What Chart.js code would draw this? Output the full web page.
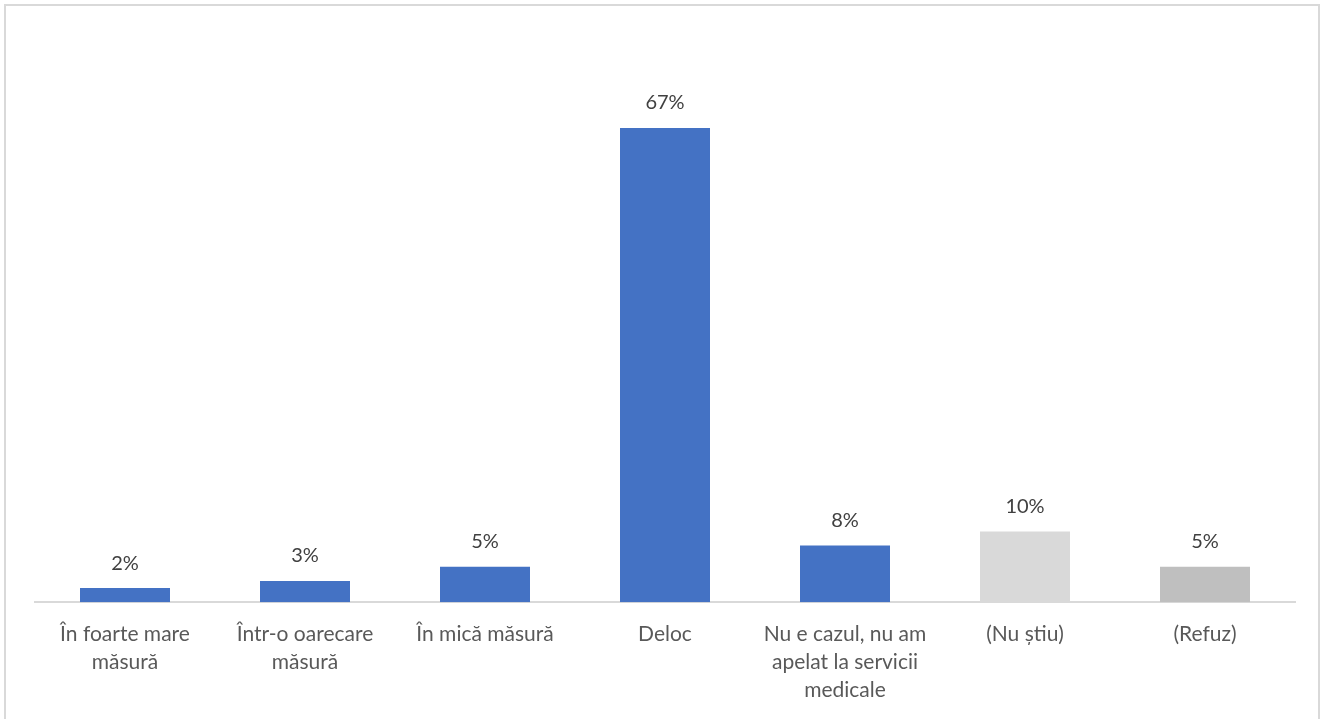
<!DOCTYPE html>
<html>
<head>
<meta charset="utf-8">
<script src="https://cdn.jsdelivr.net/npm/chart.js@4"></script>
<style>
  html, body { margin: 0; padding: 0; background: #fff; }
  #wrap { position: absolute; left: 0; top: 0; width: 1323px; height: 719px; }
</style>
</head>
<body>
<div id="wrap"><canvas id="chart"></canvas></div>
<script>
// data
const categories = [
    ["În foarte mare", "măsură"],
    ["Într-o oarecare", "măsură"],
    "În mică măsură",
    "Deloc",
    ["Nu e cazul, nu am", "apelat la servicii", "medicale"],
    "(Nu știu)",
    "(Refuz)"
];
const values = [2, 3, 5, 67, 8, 10, 5];
const valueLabels = ["2%", "3%", "5%", "67%", "8%", "10%", "5%"];

const barColors = ["#4472C4", "#4472C4", "#4472C4", "#4472C4", "#4472C4", "#D9D9D9", "#BFBFBF"];
const fontFamily = "Lato, 'Open Sans', sans-serif";

// draws the value above each bar and the outer frame
const valueLabelPlugin = {
    id: "valueLabels",
    beforeDraw(chart) {
        const ctx = chart.ctx;
        ctx.save();
        ctx.strokeStyle = "#D9D9D9";
        ctx.lineWidth = 2;
        ctx.strokeRect(5, 5, 1314, 730);
        ctx.restore();
    },
    afterDatasetsDraw(chart) {
        const ctx = chart.ctx;
        const meta = chart.getDatasetMeta(0);
        ctx.save();
        ctx.fillStyle = "#404040";
        ctx.font = "20px " + fontFamily;
        ctx.textAlign = "center";
        ctx.textBaseline = "middle";
        meta.data.forEach(function (bar, i) {
            ctx.fillText(valueLabels[i], bar.x, bar.y - 25);
        });
        ctx.restore();
    }
};

new Chart(document.getElementById("chart").getContext("2d"), {
    type: "bar",
    data: {
        labels: categories,
        datasets: [{
            data: values,
            backgroundColor: barColors,
            borderWidth: 0,
            barPercentage: 0.5,
            categoryPercentage: 1.0
        }]
    },
    options: {
        responsive: true,
        maintainAspectRatio: false,
        animation: false,
        layout: { padding: { left: 35, right: 28, top: 36, bottom: 5 } },
        plugins: {
            legend: { display: false },
            tooltip: { enabled: false }
        },
        scales: {
            x: {
                grid: { display: false },
                border: { color: "#D9D9D9", width: 2 },
                ticks: {
                    color: "#595959",
                    font: { family: fontFamily, size: 21, lineHeight: 1.33 },
                    padding: 10,
                    maxRotation: 0,
                    autoSkip: false
                }
            },
            y: {
                display: false,
                min: 0,
                max: 80
            }
        }
    },
    plugins: [valueLabelPlugin]
});
</script>
</body>
</html>
